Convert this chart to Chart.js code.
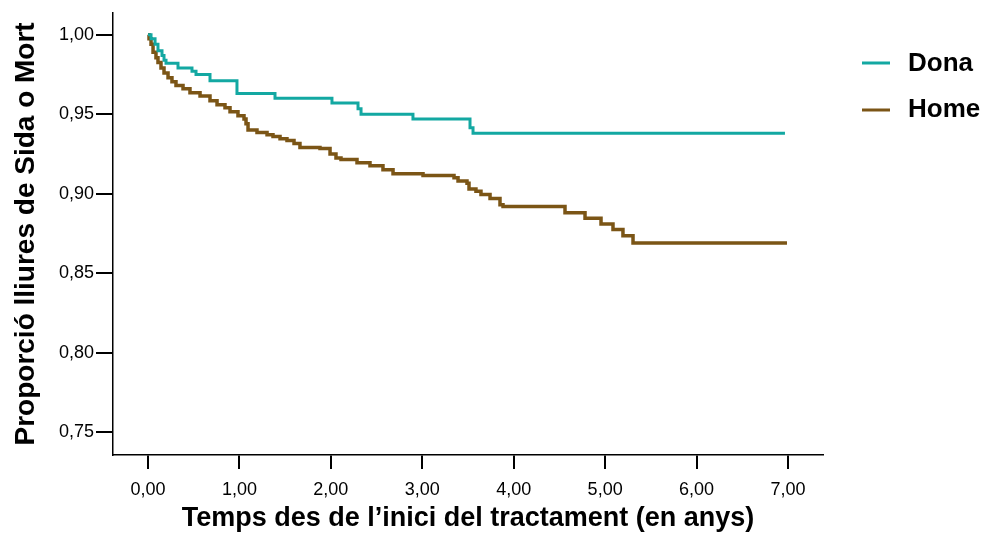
<!DOCTYPE html>
<html>
<head>
<meta charset="utf-8">
<title>Proporció lliures de Sida o Mort</title>
<script src="https://cdn.jsdelivr.net/npm/chart.js@4.4.4/dist/chart.umd.min.js"></script>
<style>
  html, body { margin: 0; padding: 0; background: #fff; }
  #chart { display: block; }
</style>
</head>
<body>
<canvas id="chart" width="987" height="538"></canvas>
<script>
// Kaplan-Meier curves (time in years, survival proportion)
const donaTimes = [0, 0.033, 0.077, 0.109, 0.153, 0.175, 0.197, 0.328, 0.481, 0.525, 0.678, 0.973, 1.389, 2.012, 2.297, 2.330, 2.898, 3.522, 3.555, 6.967];
const donaSurv  = [1.000, 0.9975, 0.994, 0.990, 0.987, 0.984, 0.982, 0.979, 0.977, 0.975, 0.971, 0.963, 0.960, 0.957, 0.9535, 0.950, 0.947, 0.9415, 0.938, 0.938];

const homeTimes = [0, 0.011, 0.033, 0.055, 0.087, 0.109, 0.142, 0.175, 0.219, 0.262, 0.306, 0.383, 0.459, 0.569, 0.678, 0.755, 0.842, 0.897, 0.984, 1.050, 1.072, 1.094, 1.192, 1.302, 1.367, 1.444, 1.520, 1.597, 1.662, 1.881, 1.991, 2.056, 2.111, 2.286, 2.428, 2.570, 2.680, 3.008, 3.347, 3.391, 3.489, 3.511, 3.587, 3.642, 3.741, 3.850, 3.883, 4.561, 4.780, 4.955, 5.086, 5.195, 5.305, 6.989];
const homeSurv  = [1.000, 0.9975, 0.994, 0.989, 0.9855, 0.9825, 0.979, 0.976, 0.973, 0.9705, 0.968, 0.966, 0.9635, 0.9615, 0.9585, 0.956, 0.954, 0.9515, 0.949, 0.947, 0.944, 0.940, 0.9385, 0.937, 0.936, 0.9345, 0.9335, 0.9315, 0.929, 0.9285, 0.925, 0.9225, 0.9215, 0.9195, 0.9175, 0.915, 0.9125, 0.9115, 0.910, 0.908, 0.9065, 0.903, 0.9015, 0.8995, 0.897, 0.893, 0.892, 0.888, 0.8845, 0.881, 0.8775, 0.8735, 0.869, 0.869];

const xTicks = [0, 1, 2, 3, 4, 5, 6, 7];
const yTicks = [0.75, 0.80, 0.85, 0.90, 0.95, 1.00];

const TEAL = '#13a8a2';
const BROWN = '#7b5516';
const FONT = "'Liberation Sans', Arial, sans-serif";

const toPoints = (ts, vs) => ts.map((t, i) => ({ x: t, y: vs[i] }));
const fmt = v => Number(v).toFixed(2).replace('.', ',');

// legend drawn at the right, outside the plot area
const sideLegend = {
  id: 'sideLegend',
  afterDraw(chart) {
    const ctx = chart.ctx;
    const rows = [{ line: 63, text: 64 }, { line: 110, text: 109.5 }];
    ctx.save();
    chart.data.datasets.forEach((ds, i) => {
      const r = rows[i];
      ctx.strokeStyle = ds.borderColor;
      ctx.lineWidth = 3;
      ctx.beginPath();
      ctx.moveTo(862, r.line);
      ctx.lineTo(890, r.line);
      ctx.stroke();
      ctx.fillStyle = '#000';
      ctx.font = 'bold 26px ' + FONT;
      ctx.textBaseline = 'middle';
      ctx.fillText(ds.label, 908, r.text);
    });
    ctx.restore();
  }
};

new Chart(document.getElementById('chart'), {
  type: 'line',
  data: {
    datasets: [
      { label: 'Dona', data: toPoints(donaTimes, donaSurv), borderColor: TEAL, borderWidth: 3, stepped: true, pointRadius: 0, fill: false },
      { label: 'Home', data: toPoints(homeTimes, homeSurv), borderColor: BROWN, borderWidth: 3.5, stepped: true, pointRadius: 0, fill: false },
    ],
  },
  options: {
    responsive: false,
    devicePixelRatio: 1,
    animation: false,
    layout: { padding: { top: 12, right: 164, bottom: 0, left: 0 } },
    plugins: { legend: { display: false }, tooltip: { enabled: false } },
    scales: {
      x: {
        type: 'linear',
        min: -0.383, max: 7.383,
        afterBuildTicks: s => { s.ticks = xTicks.map(v => ({ value: v })); },
        afterFit: s => { s.height = 83; },
        grid: { display: true, drawOnChartArea: false, drawTicks: true, tickLength: 14, color: '#000', lineWidth: 2 },
        border: { display: true, color: '#000', width: 1.5 },
        ticks: { color: '#000', padding: 10, font: { family: FONT, size: 18 }, callback: v => fmt(v), maxRotation: 0 },
        title: { display: true, text: 'Temps des de l\u2019inici del tractament (en anys)', color: '#000', font: { family: FONT, size: 27, weight: 'bold' }, padding: { top: 0, bottom: 3 } },
      },
      y: {
        min: 0.7356, max: 1.0138,
        afterBuildTicks: s => { s.ticks = yTicks.map(v => ({ value: v })); },
        afterFit: s => { s.width = 113; },
        grid: { display: true, drawOnChartArea: false, drawTicks: true, tickLength: 17, color: '#000', lineWidth: 2 },
        border: { display: true, color: '#000', width: 1.5 },
        ticks: { color: '#000', padding: 2, font: { family: FONT, size: 18 }, callback: v => fmt(v) },
        title: { display: true, text: 'Proporció lliures de Sida o Mort', color: '#000', font: { family: FONT, size: 28, weight: 'bold' }, padding: { top: 9, bottom: 0 } },
      },
    },
  },
  plugins: [sideLegend],
});
</script>
</body>
</html>
